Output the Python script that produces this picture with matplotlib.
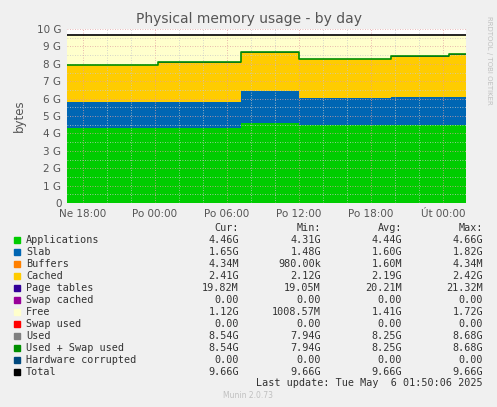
import matplotlib
matplotlib.use("Agg")
import matplotlib.pyplot as plt
import numpy as np

# hours relative to Ne 18:00
times = [-1.33, 6.25, 13.2, 18.0, 25.7, 30.5, 31.92]
apps = [4.31, 4.31, 4.62, 4.46, 4.46, 4.46]
slab = [1.48, 1.48, 1.80, 1.60, 1.62, 1.62]
buffers = [0.002, 0.002, 0.002, 0.002, 0.002, 0.004]
pagetables = [0.02, 0.02, 0.02, 0.02, 0.02, 0.02]
used = [7.94, 8.08, 8.65, 8.27, 8.42, 8.54]
total = 9.66
xtick_pos = [0, 6, 12, 18, 24, 30]
xtick_labels = ["Ne 18:00", "Po 00:00", "Po 06:00", "Po 12:00", "Po 18:00", "Út 00:00"]

legend_rows = [
    ("Applications", "#00CC00", "4.46G", "4.31G", "4.44G", "4.66G"),
    ("Slab", "#0066B3", "1.65G", "1.48G", "1.60G", "1.82G"),
    ("Buffers", "#FF8000", "4.34M", "980.00k", "1.60M", "4.34M"),
    ("Cached", "#FFCC00", "2.41G", "2.12G", "2.19G", "2.42G"),
    ("Page tables", "#330099", "19.82M", "19.05M", "20.21M", "21.32M"),
    ("Swap cached", "#990099", "0.00", "0.00", "0.00", "0.00"),
    ("Free", "#FFFFCC", "1.12G", "1008.57M", "1.41G", "1.72G"),
    ("Swap used", "#FF0000", "0.00", "0.00", "0.00", "0.00"),
    ("Used", "#808080", "8.54G", "7.94G", "8.25G", "8.68G"),
    ("Used + Swap used", "#008F00", "8.54G", "7.94G", "8.25G", "8.68G"),
    ("Hardware corrupted", "#00487D", "0.00", "0.00", "0.00", "0.00"),
    ("Total", "#000000", "9.66G", "9.66G", "9.66G", "9.66G"),
]

W, H = 497, 407
fig = plt.figure(figsize=(W/100, H/100), dpi=100, facecolor="#F0F0F0")
ax = fig.add_axes([67/W, 1-203/H, 399/W, 174/H])
ax.set_facecolor("white")

t = np.array(times)
def ext(a):
    a = np.array(a, float)
    return np.append(a, a[-1])
a = ext(apps); s = ext(slab); b = ext(buffers); p = ext(pagetables); u = ext(used)
c = u - a - s - b - p
layers = [(a, "#00CC00"), (s, "#0066B3"), (b, "#FF8000"), (c, "#FFCC00"), (p, "#330099"),
          (total - u, "#FFFFCC")]
base = np.zeros_like(a)
for vals, col in layers:
    ax.fill_between(t, base, base + vals, step="post", color=col, lw=0, zorder=1)
    base = base + vals
ax.step(t, u, where="post", color="#008F00", lw=1.2, zorder=3)
ax.plot([t[0], t[-1]], [total, total], color="black", lw=1.2, zorder=3)

ax.set_xlim(times[0], times[-1])
ax.set_ylim(0, 10)
ax.set_yticks(range(11))
ax.set_yticklabels(["0"] + [f"{i} G" for i in range(1, 11)])
ax.set_xticks(xtick_pos)
ax.set_xticklabels(xtick_labels)
ax.set_xticks(np.arange(-0, 32, 2), minor=True)
ax.set_yticks(np.arange(0.5, 10, 1), minor=True)
ax.grid(True, which="major", color="#E0A0A0", ls=(0, (1, 2)), lw=0.6, zorder=2)
ax.grid(True, which="minor", color="#C8C8C8", ls=(0, (1, 2)), lw=0.6, zorder=2)
ax.set_axisbelow(False)
for sp in ax.spines.values():
    sp.set_visible(False)
ax.tick_params(which="both", length=0, labelsize=7.5, colors="#555555", pad=4)
ax.set_ylabel("bytes", fontsize=8.5, color="#555555", labelpad=8)
fig.text(0.5, 1-19/H, "Physical memory usage - by day", ha="center", va="center",
         fontsize=10, color="#555555")
fig.text(489/W, 1-60/H, "RRDTOOL / TOBI OETIKER", rotation=270, ha="center", va="center",
         fontsize=5, color="#C0C0C0")

mono = dict(family="DejaVu Sans Mono", fontsize=7.3, color="#333333", va="center")
cols = [239, 321, 402, 483]
for x, h in zip(cols, ["Cur:", "Min:", "Avg:", "Max:"]):
    fig.text(x/W, 1-228/H, h, ha="right", **mono)
for i, (name, col, *vals) in enumerate(legend_rows):
    y = 1-(240 + i*12)/H
    fig.patches.append(plt.Rectangle((14/W, y-3/H), 6/W, 6/H, transform=fig.transFigure,
                                     color=col, figure=fig))
    fig.text(26/W, y, name, ha="left", **mono)
    for x, v in zip(cols, vals):
        fig.text(x/W, y, v, ha="right", **mono)
fig.text(483/W, 1-383/H, "Last update: Tue May  6 01:50:06 2025", ha="right", **mono)
fig.text(248/W, 1-396/H, "Munin 2.0.73", ha="center", va="center", fontsize=5.5, color="#C0C0C0")

fig.savefig("out.png", dpi=100, facecolor=fig.get_facecolor())
